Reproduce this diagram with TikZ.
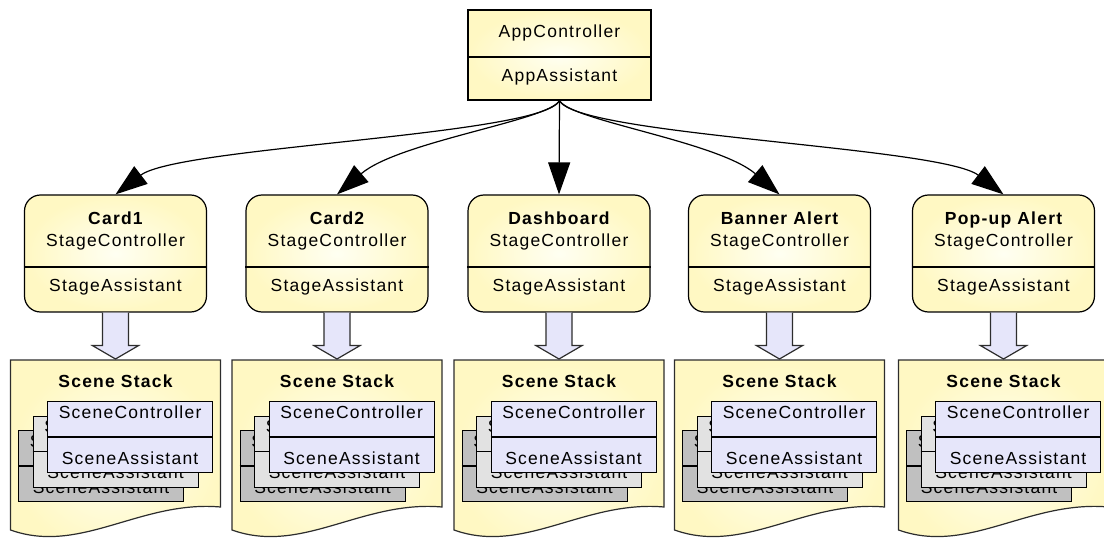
\documentclass[tikz,border=0pt]{standalone}
\usepackage{fontspec}
\setmainfont{Liberation Sans}[LetterSpace=7]
\usetikzlibrary{arrows.meta,calc}
\definecolor{boxyellow}{RGB}{255,248,195}
\definecolor{boxlight}{RGB}{255,255,242}
\definecolor{lav}{RGB}{230,230,250}
\definecolor{gback}{RGB}{192,192,192}
\definecolor{gmid}{RGB}{226,226,226}
\definecolor{edge}{RGB}{45,45,45}

\begin{document}
\begin{tikzpicture}[x=1pt,y=-1pt,
  font=\fontsize{17.5}{21}\selectfont,
  ybox/.style={draw=black, line width=1.2pt, shading=radial,
    inner color=boxlight, outer color=boxyellow},
  appbox/.style={ybox, rectangle, minimum width=183pt, minimum height=90pt, inner sep=0pt},
  stagebox/.style={ybox, rounded corners=16pt, minimum width=182pt,
    minimum height=117pt, inner sep=0pt},
  txt/.style={inner sep=0pt, anchor=base},
  title/.style={txt, font=\fontsize{17.5}{21}\selectfont\bfseries},
  divider/.style={line width=1.2pt},
  link/.style={line width=1.2pt, -{Triangle[length=32pt,width=22pt]}},
  feed/.style={draw=edge, fill=lav, line width=1.2pt, line join=miter},
  docshape/.style={draw=edge, line width=1.2pt, shading=radial,
    inner color=boxlight, outer color=boxyellow},
  scenebox/.style={draw=black, line width=1.2pt, minimum width=165pt,
    minimum height=71pt, inner sep=0pt, anchor=north west},
]
\useasboundingbox (0,0) rectangle (1104,540);
\clip (0,0) rectangle (1104,540);

% application controller
\node[appbox] (app) at (559.5,55) {};
\draw[divider] (app.west |- 0,57) -- (app.east |- 0,57);
\node[txt] (appc) at (559.5,38) {AppController};
\node[txt] (appa) at (559.5,82) {AppAssistant};

% one column per stage: stage box, feed arrow and scene stack
\foreach \n/\c/\t in {card1/115.5/Card1, card2/337/Card2, dash/559/Dashboard,
                      banner/779.5/Banner Alert, popup/1003.5/Pop-up Alert}{
  \node[stagebox] (\n) at (\c,253.5) {};
  \draw[divider] (\n.west |- 0,267) -- (\n.east |- 0,267);
  \node[title] (\n-t) at (\c,225) {\t};
  \node[txt] (\n-c) at (\c,247) {StageController};
  \node[txt] (\n-a) at (\c,292) {StageAssistant};

  % scene stack document
  \coordinate (\n-doc) at (\c,360);
  \path[docshape] ({\c-105},360) -- ({\c+105},360) -- ({\c+105},507)
     .. controls ({\c+25},500) and ({\c-35},555) .. ({\c-105},530) -- cycle;
  \node[title] (\n-s) at (\c,387) {Scene Stack};

  % hollow arrow from stage to its scene stack
  \path[feed] ($(\n.south)+(-13,0)$) -- ($(\n.south)+(-13,33)$)
     -- ($(\n.south)+(-23,33)$) -- ($(\n-doc)+(0,-1)$)
     -- ($(\n.south)+(23,33)$) -- ($(\n.south)+(13,33)$)
     -- ($(\n.south)+(13,0)$);

  % stacked scenes, back to front
  \foreach \k/\dx/\dy/\col in {b/-97.5/430/gback, m/-83/415.5/gmid, f/-68.5/401/lav}{
    \node[scenebox, fill=\col] (\n-\k) at ({\c+\dx},\dy) {};
    \draw[divider] ($(\n-\k.north west)+(0,36)$) -- ($(\n-\k.north east)+(0,36)$);
    \node[txt] (\n-\k c) at ($(\n-\k.north)+(0,17)$) {SceneController};
    \node[txt] (\n-\k a) at ($(\n-\k.north)+(0,63)$) {SceneAssistant};
  }
}

% links from the application to each stage
\draw[link] (app.south) .. controls +(-17,35) and +(63,-48) .. (card1.north);
\draw[link] (app.south) .. controls +(-11,20) and +(62,-53) .. (card2.north);
\draw[link] (app.south) -- (dash.north);
\draw[link] (app.south) .. controls +(11,20) and +(-62,-53) .. (banner.north);
\draw[link] (app.south) .. controls +(17,35) and +(-63,-48) .. (popup.north);
\end{tikzpicture}
\end{document}
